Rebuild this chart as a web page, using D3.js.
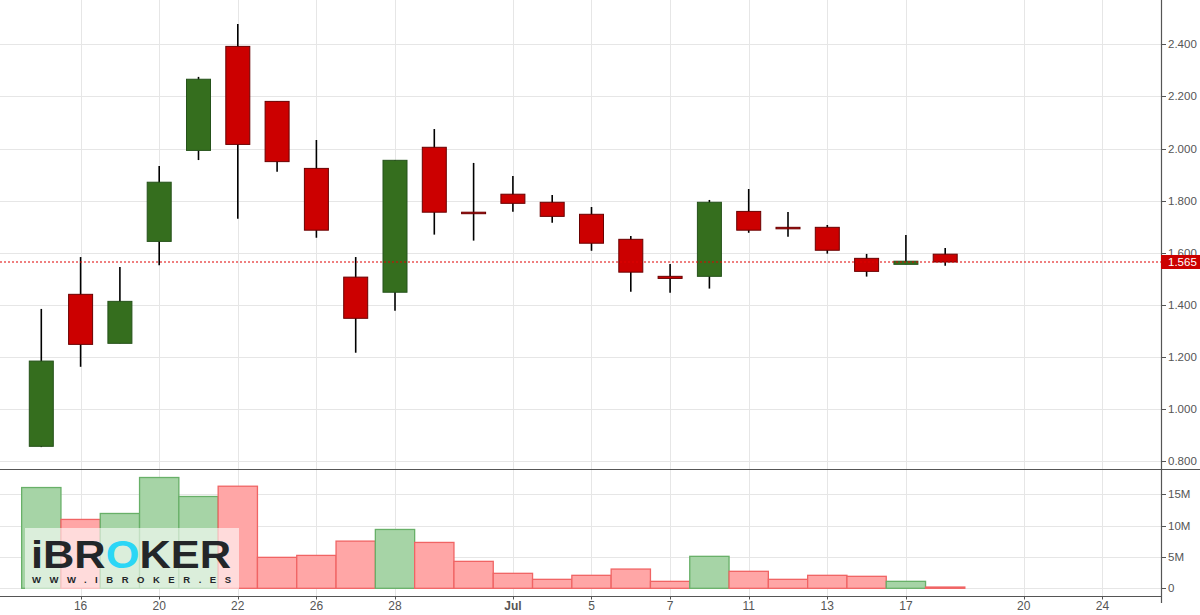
<!DOCTYPE html>
<html>
<head>
<meta charset="utf-8">
<script src="https://cdn.jsdelivr.net/npm/d3@7"></script>
<style>
html,body{margin:0;padding:0;background:#fff;}
svg{display:block;}
text{font-family:"Liberation Sans",Arial,sans-serif;}
</style>
</head>
<body>
<svg id="chart" width="1200" height="615"></svg>
<script>
// ---- Data ----
const dates = ["2017-06-15","2017-06-16","2017-06-19","2017-06-20","2017-06-21","2017-06-22","2017-06-23","2017-06-26","2017-06-27","2017-06-28","2017-06-29","2017-06-30","2017-07-03","2017-07-04","2017-07-05","2017-07-06","2017-07-07","2017-07-10","2017-07-11","2017-07-12","2017-07-13","2017-07-14","2017-07-17","2017-07-18"];
const open  = [0.858,1.441,1.253,1.644,1.993,2.392,2.181,1.924,1.507,1.449,2.005,1.756,1.825,1.794,1.748,1.652,1.510,1.510,1.759,1.698,1.698,1.579,1.556,1.595];
const high  = [1.385,1.584,1.546,1.933,2.275,2.478,2.181,2.033,1.584,1.955,2.075,1.945,1.895,1.822,1.776,1.665,1.557,1.803,1.845,1.757,1.707,1.596,1.669,1.619];
const low   = [0.855,1.163,1.253,1.553,1.956,1.731,1.911,1.658,1.217,1.378,1.670,1.647,1.758,1.716,1.608,1.451,1.447,1.463,1.677,1.662,1.597,1.509,1.556,1.551];
const close = [1.185,1.249,1.414,1.871,2.266,2.016,1.950,1.687,1.349,1.955,1.756,1.752,1.790,1.740,1.637,1.526,1.502,1.794,1.687,1.696,1.610,1.529,1.568,1.565];
const volume = [16.08e6,10.99e6,11.94e6,17.68e6,14.65e6,16.29e6,4.94e6,5.25e6,7.53e6,9.39e6,7.32e6,4.30e6,2.39e6,1.43e6,2.07e6,3.07e6,1.11e6,5.10e6,2.71e6,1.43e6,2.07e6,1.91e6,1.11e6,0.20e6];
const xTickLabels = ["16","20","22","26","28","Jul","5","7","11","13","17","20","24"];
const xTickIndex  = [1,3,5,7,9,12,14,16,18,20,22,25,27];
const priceTicks = [0.8,1.0,1.2,1.4,1.6,1.8,2.0,2.2,2.4];
const volTicks = [0,5e6,10e6,15e6];
const volTickLabels = ["0","5M","10M","15M"];
const lastPrice = 1.565;

// ---- Layout ----
const svg = d3.select("#chart");
const axisX = 1161;
const x = d3.scaleLinear().domain([0, 27]).range([41.3, 41.3 + 27 * 39.3]);
const slot = 39.3;
const y = d3.scaleLinear().domain([1.0, 2.4]).range([409.3, 44.3]);
const yv = d3.scaleLinear().domain([0, 15e6]).range([588.3, 494.3]);
const sepY = 469.5, bottomY = 596.5;

const grid = svg.append("g");
grid.selectAll("line.v").data(xTickIndex).join("line")
  .attr("x1", d => Math.round(x(d)) + 0.5).attr("x2", d => Math.round(x(d)) + 0.5)
  .attr("y1", 0).attr("y2", bottomY)
  .attr("stroke", "#e6e6e6").attr("stroke-width", 1);
grid.selectAll("line.hp").data(priceTicks).join("line")
  .attr("x1", 0).attr("x2", axisX)
  .attr("y1", d => Math.round(y(d)) + 0.5).attr("y2", d => Math.round(y(d)) + 0.5)
  .attr("stroke", "#e6e6e6");
grid.selectAll("line.hv").data(volTicks).join("line")
  .attr("x1", 0).attr("x2", axisX)
  .attr("y1", d => Math.round(yv(d)) + 0.5).attr("y2", d => Math.round(yv(d)) + 0.5)
  .attr("stroke", "#e6e6e6");

// ---- Volume bars ----
const idx = d3.range(dates.length);
svg.append("g").selectAll("rect").data(idx).join("rect")
  .attr("x", i => x(i) - slot / 2)
  .attr("width", slot)
  .attr("y", i => yv(volume[i]))
  .attr("height", i => yv(0) - yv(volume[i]))
  .attr("fill", i => close[i] >= open[i] ? "#a6d4a6" : "#ffa6a6")
  .attr("stroke", i => close[i] >= open[i] ? "#68b068" : "#f06464")
  .attr("stroke-width", 1.3);

// ---- Candles ----
const cg = svg.append("g");
cg.selectAll("line.wick").data(idx).join("line")
  .attr("x1", i => x(i)).attr("x2", i => x(i))
  .attr("y1", i => y(high[i])).attr("y2", i => y(low[i]))
  .attr("stroke", "#000").attr("stroke-width", 1.6);
const bodyW = 24;
cg.selectAll("rect.body").data(idx).join("rect")
  .attr("x", i => x(i) - bodyW / 2)
  .attr("width", bodyW)
  .attr("y", i => y(Math.max(open[i], close[i])))
  .attr("height", i => Math.max(1.5, Math.abs(y(open[i]) - y(close[i]))))
  .attr("fill", i => close[i] >= open[i] ? "#356e1e" : "#cc0000")
  .attr("stroke", i => close[i] >= open[i] ? "#25521a" : "#6a0000")
  .attr("stroke-width", 1);

// ---- Last price line ----
svg.append("line")
  .attr("x1", 0).attr("x2", axisX)
  .attr("y1", y(lastPrice)).attr("y2", y(lastPrice))
  .attr("stroke", "#e00000").attr("stroke-width", 1.2)
  .attr("stroke-dasharray", "2,2");

// ---- Axes lines ----
svg.append("line").attr("x1", 0).attr("x2", 1200).attr("y1", sepY).attr("y2", sepY)
  .attr("stroke", "#555").attr("stroke-width", 1.2);
svg.append("line").attr("x1", 0).attr("x2", axisX).attr("y1", bottomY).attr("y2", bottomY)
  .attr("stroke", "#555").attr("stroke-width", 1.2);
svg.append("line").attr("x1", axisX + 0.5).attr("x2", axisX + 0.5).attr("y1", 0).attr("y2", 603)
  .attr("stroke", "#555").attr("stroke-width", 1.2);

const fmt = d3.format(".3f");
const ra = svg.append("g");
ra.selectAll("line.pt").data(priceTicks).join("line")
  .attr("x1", axisX).attr("x2", axisX + 5)
  .attr("y1", d => Math.round(y(d)) + 0.5).attr("y2", d => Math.round(y(d)) + 0.5)
  .attr("stroke", "#555");
ra.selectAll("text.pt").data(priceTicks).join("text")
  .attr("x", axisX + 7).attr("y", d => y(d))
  .attr("dy", "0.35em")
  .attr("font-size", 11.5).attr("fill", "#555")
  .text(d => fmt(d));
ra.selectAll("line.vt").data(volTicks).join("line")
  .attr("x1", axisX).attr("x2", axisX + 5)
  .attr("y1", d => Math.round(yv(d)) + 0.5).attr("y2", d => Math.round(yv(d)) + 0.5)
  .attr("stroke", "#555");
ra.selectAll("text.vt").data(volTicks).join("text")
  .attr("x", axisX + 7).attr("y", d => yv(d))
  .attr("dy", "0.35em")
  .attr("font-size", 11.5).attr("fill", "#555")
  .text((d, i) => volTickLabels[i]);

// last price label
svg.append("rect").attr("x", axisX).attr("y", y(lastPrice) - 7).attr("width", 1200 - axisX).attr("height", 14)
  .attr("fill", "#cc0000");
svg.append("text").attr("x", axisX + 7).attr("y", y(lastPrice)).attr("dy", "0.36em")
  .attr("font-size", 11.5).attr("fill", "#fff").text(fmt(lastPrice));

// x axis
const xa = svg.append("g");
xa.selectAll("line").data(xTickIndex).join("line")
  .attr("x1", d => Math.round(x(d)) + 0.5).attr("x2", d => Math.round(x(d)) + 0.5)
  .attr("y1", bottomY).attr("y2", bottomY + 3)
  .attr("stroke", "#555");
xa.selectAll("text").data(xTickIndex).join("text")
  .attr("x", d => x(d)).attr("y", 610)
  .attr("text-anchor", "middle")
  .attr("font-size", 12).attr("fill", "#555")
  .attr("font-weight", (d, i) => xTickLabels[i] === "Jul" ? "bold" : "normal")
  .text((d, i) => xTickLabels[i]);

// ---- Watermark logo ----
const logo = svg.append("g");
logo.append("rect").attr("x", 25).attr("y", 528).attr("width", 214).attr("height", 61)
  .attr("fill", "#fff").attr("fill-opacity", 0.6);
const t = logo.append("text").attr("x", 31).attr("y", 568)
  .attr("font-family", "'Noto Sans', 'DejaVu Sans', sans-serif")
  .attr("font-weight", "bold").attr("font-size", 39)
  .attr("textLength", 200).attr("lengthAdjust", "spacingAndGlyphs")
  .attr("fill", "#232629");
t.append("tspan").text("iBR");
t.append("tspan").attr("fill", "#2bd6f6").text("O");
t.append("tspan").text("KER");
logo.append("text").attr("x", 32).attr("y", 582.5)
  .attr("font-family", "'DejaVu Sans', sans-serif")
  .attr("font-weight", "bold").attr("font-size", 9.5)
  .attr("textLength", 199).attr("lengthAdjust", "spacing")
  .attr("fill", "#232629")
  .text("WWW.IBROKER.ES");
</script>
</body>
</html>
